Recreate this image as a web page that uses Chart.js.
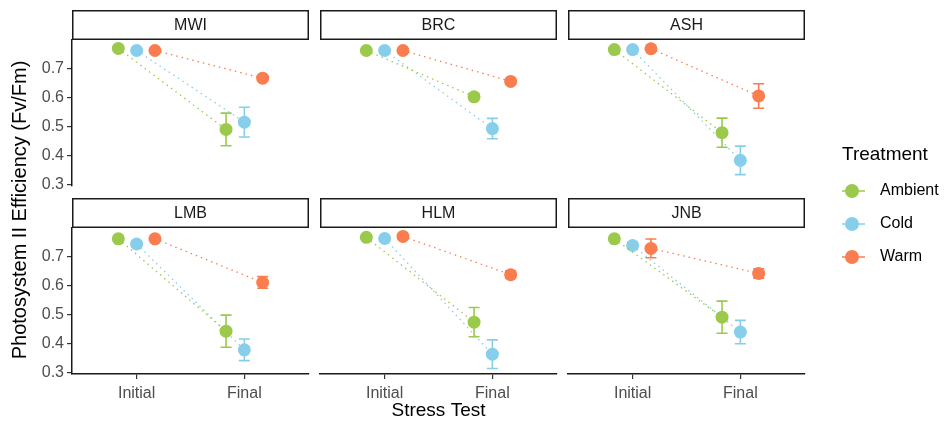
<!DOCTYPE html>
<html>
<head>
<meta charset="utf-8">
<script src="https://cdn.jsdelivr.net/npm/chart.js@4"></script>
<style>
html, body { margin: 0; padding: 0; background: #fff; }
#wrap { position: relative; width: 945px; height: 423px; overflow: hidden; }
#wrap canvas { position: absolute; }
</style>
</head>
<body>
<div id="wrap"></div>
<script>
const sites = ['MWI', 'BRC', 'ASH', 'LMB', 'HLM', 'JNB'];
const treatments = ['Ambient', 'Cold', 'Warm'];
const stages = ['Initial', 'Final'];
const yTicks = [0.3, 0.4, 0.5, 0.6, 0.7];

// mean Fv/Fm per site, [Initial, Final]
const ambientMean = [[0.768, 0.490], [0.761, 0.602], [0.764, 0.479], [0.760, 0.443], [0.765, 0.474], [0.760, 0.491]];
const coldMean    = [[0.761, 0.515], [0.761, 0.493], [0.764, 0.384], [0.742, 0.379], [0.761, 0.364], [0.737, 0.440]];
const warmMean    = [[0.761, 0.666], [0.761, 0.655], [0.767, 0.605], [0.760, 0.610], [0.768, 0.637], [0.727, 0.641]];
// standard error per site, [Initial, Final]
const ambientSE = [[0.004, 0.056], [0.004, 0.010], [0.004, 0.050], [0.004, 0.055], [0.004, 0.050], [0.004, 0.055]];
const coldSE    = [[0.004, 0.051], [0.004, 0.035], [0.004, 0.049], [0.010, 0.037], [0.004, 0.049], [0.012, 0.040]];
const warmSE    = [[0.004, 0.008], [0.004, 0.008], [0.004, 0.042], [0.004, 0.020], [0.004, 0.012], [0.032, 0.016]];

const colors = ['#9bc94b', '#87ceeb', '#fa7d50'];
const means = [ambientMean, coldMean, warmMean];
const ses = [ambientSE, coldSE, warmSE];
const dodge = [-0.17, 0, 0.17];

const family = '"Liberation Sans", Arial, sans-serif';
Chart.defaults.font.family = family;

// panel geometry
const colX = [72, 320, 568];
const rowY = [40, 228];
const panelW = 237, panelH = 146;
const yMin = 0.296, yMax = 0.797;

const wrap = document.getElementById('wrap');
function makeCanvas(left, top, w, h) {
    const c = document.createElement('canvas');
    c.width = w; c.height = h;
    c.style.left = left + 'px'; c.style.top = top + 'px';
    c.style.width = w + 'px'; c.style.height = h + 'px';
    wrap.appendChild(c);
    return c;
}

const errorBars = {
    id: 'errorBars',
    beforeDatasetsDraw(chart) {
        const ctx = chart.ctx;
        const ys = chart.scales.y;
        chart.data.datasets.forEach((ds, di) => {
            const meta = chart.getDatasetMeta(di);
            ds.data.forEach((p, k) => {
                const x = meta.data[k].x;
                const top = ys.getPixelForValue(p.y + ds.se[k]);
                const bot = ys.getPixelForValue(p.y - ds.se[k]);
                ctx.save();
                ctx.strokeStyle = ds.borderColor;
                ctx.lineWidth = 1.6;
                ctx.beginPath();
                ctx.moveTo(x, top); ctx.lineTo(x, bot);
                ctx.moveTo(x - 5.5, top); ctx.lineTo(x + 5.5, top);
                ctx.moveTo(x - 5.5, bot); ctx.lineTo(x + 5.5, bot);
                ctx.stroke();
                ctx.restore();
            });
        });
    }
};

const strip = {
    id: 'strip',
    afterDraw(chart, args, opts) {
        const {left, right, top} = chart.chartArea;
        const ctx = chart.ctx;
        ctx.save();
        ctx.fillStyle = '#fff';
        ctx.fillRect(left, top - 30, right - left, 30);
        ctx.strokeStyle = '#1a1a1a';
        ctx.lineWidth = 1.5;
        ctx.strokeRect(left + 0.75, top - 29.25, right - left - 1.5, 28.5);
        ctx.fillStyle = '#1a1a1a';
        ctx.font = '16px ' + family;
        ctx.textAlign = 'center';
        ctx.textBaseline = 'middle';
        ctx.fillText(opts.text, (left + right) / 2, top - 14.5);
        ctx.restore();
    }
};

sites.forEach((site, i) => {
    const col = i % 3, row = Math.floor(i / 3);
    const showY = col === 0, showX = row === 1;
    const datasets = treatments.map((t, ti) => ({
        label: t,
        data: stages.map((s, k) => ({x: k + 1 + dodge[ti], y: means[ti][i][k]})),
        se: ses[ti][i],
        borderColor: colors[ti],
        backgroundColor: colors[ti],
        borderWidth: 1.3,
        borderDash: [1.5, 4],
        pointRadius: 6.5,
        pointBorderWidth: 0,
        pointBackgroundColor: colors[ti],
        tension: 0
    }));
    new Chart(makeCanvas(0, 0, 945, 423), {
        type: 'line',
        data: {datasets},
        options: {
            responsive: false,
            animation: false,
            layout: {
                padding: {
                    left: colX[col] - 40,
                    top: rowY[row],
                    right: 945 - colX[col] - panelW,
                    bottom: 423 - rowY[row] - panelH - 40
                }
            },
            plugins: {
                legend: {display: false},
                tooltip: {enabled: false},
                strip: {text: site}
            },
            scales: {
                x: {
                    type: 'linear', min: 0.4, max: 2.6,
                    afterBuildTicks: s => { s.ticks = [1, 2].map(v => ({value: v})); },
                    afterFit: s => { s.height = 40; },
                    grid: {display: showX, drawOnChartArea: false, tickLength: 5, color: '#333', lineWidth: 1.2},
                    border: {display: showX, color: '#1a1a1a', width: 1.5},
                    ticks: {display: showX, padding: 5, color: '#4d4d4d', font: {size: 16}, maxRotation: 0, autoSkip: false,
                            callback: v => stages[Math.round(v) - 1]}
                },
                y: {
                    min: yMin, max: yMax,
                    afterBuildTicks: s => { s.ticks = yTicks.map(v => ({value: v})); },
                    afterFit: s => { s.width = 40; },
                    grid: {display: showY, drawOnChartArea: false, tickLength: 5, color: '#333', lineWidth: 1.2},
                    border: {display: showY, color: '#1a1a1a', width: 1.5},
                    ticks: {display: showY, padding: 3, color: '#4d4d4d', font: {size: 16},
                            callback: v => v.toFixed(1)}
                }
            }
        },
        plugins: [errorBars, strip]
    });
});

// shared axis titles
new Chart(makeCanvas(0, 0, 945, 423), {
    type: 'scatter',
    data: {datasets: []},
    options: {
        responsive: false,
        animation: false,
        layout: {padding: {left: 8, right: 140, top: 46, bottom: 1}},
        plugins: {legend: {display: false}, tooltip: {enabled: false}},
        scales: {
            x: {
                min: 0, max: 1,
                afterFit: s => { s.height = 48; },
                grid: {display: false}, border: {display: false}, ticks: {display: false},
                title: {display: true, text: 'Stress Test', color: '#000', font: {size: 19}, padding: {top: 0, bottom: 0}}
            },
            y: {
                min: 0, max: 1,
                afterFit: s => { s.width = 64; },
                grid: {display: false}, border: {display: false}, ticks: {display: false},
                title: {display: true, text: 'Photosystem II Efficiency (Fv/Fm)', color: '#000', font: {size: 20}, padding: {top: 0, bottom: 0}}
            }
        }
    }
});

// legend keys: short line with a point
function keyImage(color) {
    const c = document.createElement('canvas');
    c.width = 53; c.height = 16;
    const ctx = c.getContext('2d');
    ctx.strokeStyle = color;
    ctx.lineWidth = 1.5;
    ctx.beginPath(); ctx.moveTo(0, 8); ctx.lineTo(26, 8); ctx.stroke();
    ctx.fillStyle = color;
    ctx.beginPath(); ctx.arc(13, 8, 7, 0, Math.PI * 2); ctx.fill();
    return c;
}
const keys = colors.map(keyImage);

new Chart(makeCanvas(832, 135, 113, 160), {
    type: 'line',
    data: {datasets: treatments.map((t, ti) => ({label: t, data: [], borderColor: colors[ti]}))},
    options: {
        responsive: false,
        animation: false,
        layout: {padding: {left: 10, top: 10}},
        scales: {x: {display: false}, y: {display: false}},
        plugins: {
            tooltip: {enabled: false},
            legend: {
                position: 'left',
                align: 'start',
                maxWidth: 103,
                title: {display: true, text: 'Treatment', color: '#000', position: 'start',
                        font: {size: 19, lineHeight: 1}, padding: {top: 0, bottom: 2}},
                labels: {
                    usePointStyle: true,
                    pointStyleWidth: 13,
                    padding: 17,
                    color: '#1a1a1a',
                    font: {size: 16},
                    generateLabels: chart => treatments.map((t, ti) => ({
                        text: t, pointStyle: keys[ti], fillStyle: colors[ti], strokeStyle: colors[ti],
                        lineWidth: 0, hidden: false, datasetIndex: ti
                    }))
                }
            }
        }
    }
});
</script>
</body>
</html>
